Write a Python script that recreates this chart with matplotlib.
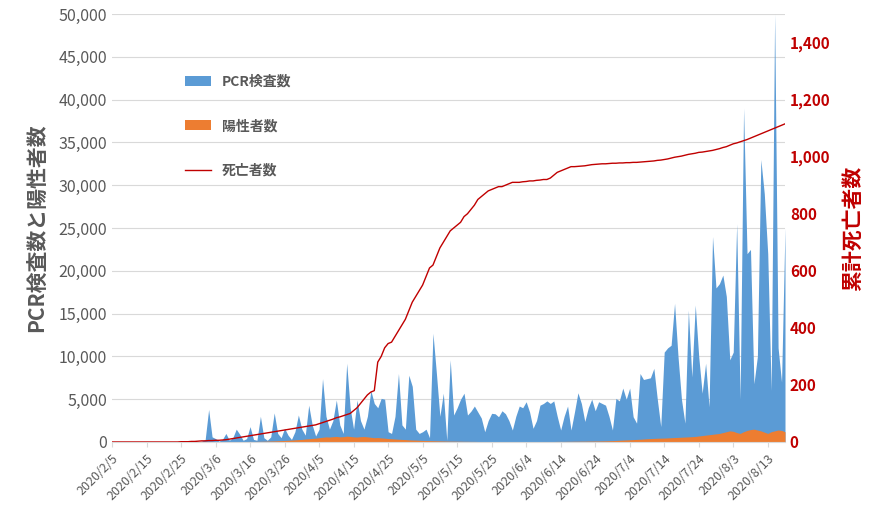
import datetime as dt
import matplotlib.pyplot as plt
import matplotlib.dates as mdates
from matplotlib.ticker import FuncFormatter

plt.rcParams['font.family'] = ['Noto Sans CJK JP', 'DejaVu Sans']

start = dt.date(2020, 2, 5)

pcr = [0] * 26 + [
    100, 300, 3800, 600, 400, 100, 300, 1000, 200, 500,
    1500, 900, 200, 400, 1800, 300, 200, 3000, 500, 200,
    600, 3400, 1000, 500, 1600, 800, 300, 1200, 3150, 1500,
    800, 4300, 2000, 700, 1500, 7400, 3000, 1500, 2500, 4900,
    2000, 1000, 9200, 4000, 1500, 4900, 2500, 1500, 3000, 6000,
    4500, 4000, 5100, 5000, 1200, 1000, 3000, 8000, 2000, 1500,
    7800, 6500, 1500, 1000, 1200, 1500, 500, 12700, 8000, 3000,
    5700, 200, 9600, 3150, 4000, 5000, 5700, 3150, 3600, 4200,
    3500, 2800, 1200, 2500, 3350, 3300, 2950, 3650, 3300, 2500,
    1400, 3000, 4200, 4000, 4700, 3500, 1600, 2500, 4300, 4500,
    4800, 4500, 4800, 3000, 1400, 3000, 4200, 1400, 3500, 5750,
    4500, 2400, 4000, 5000, 3650, 4700, 4500, 4300, 3000, 1400,
    5100, 4800, 6300, 5000, 6300, 2950, 2200, 8000, 7300, 7400,
    7500, 8600, 5000, 1800, 10500, 11000, 11300, 16200, 10000, 5000,
    2200, 15400, 7600, 16000, 10000, 5700, 9200, 4100, 24000, 18000,
    18500, 19500, 17000, 9600, 10500, 25500, 5000, 39000, 22000, 22500,
    6800, 10000, 33000, 29000, 22000, 6000, 50000, 11000, 7000, 25000]

positive = [0] * 26 + [
    10, 20, 30, 20, 20, 30, 40, 40, 50, 40,
    50, 60, 50, 60, 70, 60, 70, 80, 90, 100,
    120, 130, 150, 160, 180, 200, 220, 250, 280, 300,
    350, 380, 420, 450, 500, 550, 600, 580, 620, 650,
    600, 620, 680, 650, 600, 580, 620, 640, 600, 550,
    500, 520, 480, 450, 400, 380, 350, 320, 300, 280,
    250, 230, 220, 200, 180, 170, 160, 150, 140, 130,
    120, 110, 100, 100, 90, 90, 80, 80, 70, 70,
    60, 60, 50, 50, 50, 50, 50, 40, 40, 40,
    40, 40, 40, 40, 50, 50, 50, 50, 50, 60,
    60, 60, 60, 70, 70, 70, 80, 80, 90, 90,
    100, 100, 110, 110, 120, 120, 130, 140, 150, 160,
    180, 200, 220, 240, 260, 280, 300, 320, 350, 380,
    400, 420, 440, 450, 460, 480, 500, 520, 540, 560,
    580, 600, 620, 650, 700, 750, 800, 850, 900, 950,
    1000, 1100, 1200, 1300, 1250, 1100, 1000, 1200, 1350, 1450,
    1500, 1400, 1300, 1150, 1000, 1200, 1300, 1400, 1350, 1200]

deaths = [0] * 20 + [
    1, 1, 1, 2, 2, 3, 4, 4, 5, 5,
    6, 6, 7, 8, 10, 12, 14, 16, 18, 20,
    22, 24, 26, 28, 30, 32, 34, 36, 38, 40,
    42, 44, 46, 48, 50, 52, 54, 56, 58, 60,
    64, 68, 72, 76, 80, 85, 88, 92, 96, 100,
    110, 120, 135, 150, 165, 175, 180, 280, 300, 330,
    345, 350, 370, 390, 410, 430, 460, 490, 510, 530,
    550, 580, 610, 620, 650, 680, 700, 720, 740, 750,
    760, 770, 790, 800, 815, 830, 850, 860, 870, 880,
    885, 890, 895, 895, 900, 905, 910, 910, 910, 912,
    913, 915, 915, 917, 918, 920, 920, 925, 935, 945,
    950, 955, 960, 965, 965, 966, 967, 968, 970, 972,
    973, 974, 975, 975, 976, 977, 977, 978, 978, 979,
    979, 980, 980, 981, 982, 983, 984, 985, 987, 988,
    990, 992, 995, 998, 1000, 1002, 1005, 1008, 1010, 1012,
    1015, 1016, 1018, 1020, 1022, 1025, 1028, 1032, 1035, 1040,
    1045, 1048, 1052, 1056, 1060, 1065, 1070, 1075, 1080, 1085,
    1090, 1095, 1100, 1105, 1110, 1115]

dates = [start + dt.timedelta(days=i) for i in range(len(pcr))]

fig = plt.figure(figsize=(8.86, 5.17), dpi=100)
ax = fig.add_axes([112 / 886, 75 / 517, 673 / 886, 428 / 517])
ax2 = ax.twinx()

gray = '#595959'
red = '#c00000'

ax.fill_between(dates, pcr, color='#5b9bd5', lw=0, label='PCR検査数')
ax.fill_between(dates, positive, color='#ed7d31', lw=0, label='陽性者数')
ax2.plot(dates, deaths, color='#c00000', lw=1, label='死亡者数')

ax.set_ylim(0, 50000)
ax.set_yticks(range(0, 50001, 5000))
ax.yaxis.set_major_formatter(FuncFormatter(lambda v, p: f'{int(v):,}'))
ax2.set_ylim(0, 1500)
ax2.set_yticks(range(0, 1401, 200))
ax2.yaxis.set_major_formatter(FuncFormatter(lambda v, p: f'{int(v):,}'))

ax.set_xlim(dates[0], dates[-1])
ticks = [start + dt.timedelta(days=10 * i) for i in range(20)]
ax.set_xticks(ticks)
ax.set_xticklabels([f'{d.year}/{d.month}/{d.day}' for d in ticks],
                   rotation=45, ha='right', rotation_mode='anchor', fontsize=9, color=gray)

ax.grid(axis='y', color='#d9d9d9', lw=0.8)
ax.set_axisbelow(True)
for s in ['top', 'right', 'left']:
    ax.spines[s].set_visible(False)
    ax2.spines[s].set_visible(False)
ax2.spines['bottom'].set_visible(False)
ax.spines['bottom'].set_color('#d9d9d9')
ax.tick_params(axis='y', length=0, labelsize=11.5, labelcolor=gray)
ax.tick_params(axis='x', color='#d9d9d9')
ax2.tick_params(axis='y', length=0, labelsize=11, labelcolor=red)
for t in ax2.get_yticklabels():
    t.set_fontweight('bold')

ax.set_ylabel('PCR検査数と陽性者数', fontsize=15, fontweight='bold', color=gray, labelpad=8)
ax2.set_ylabel('累計死亡者数', fontsize=15, fontweight='bold', color=red, labelpad=8)

h1, l1 = ax.get_legend_handles_labels()
h2, l2 = ax2.get_legend_handles_labels()
leg = fig.legend(h1 + h2, l1 + l2, loc='upper left', bbox_to_anchor=(172 / 886, 1 - 62 / 517),
                 frameon=False, labelspacing=2.2, handlelength=1.9, fontsize=10)
for t in leg.get_texts():
    t.set_color(gray)
    t.set_fontweight('bold')

fig.savefig('out.png', dpi=100)
